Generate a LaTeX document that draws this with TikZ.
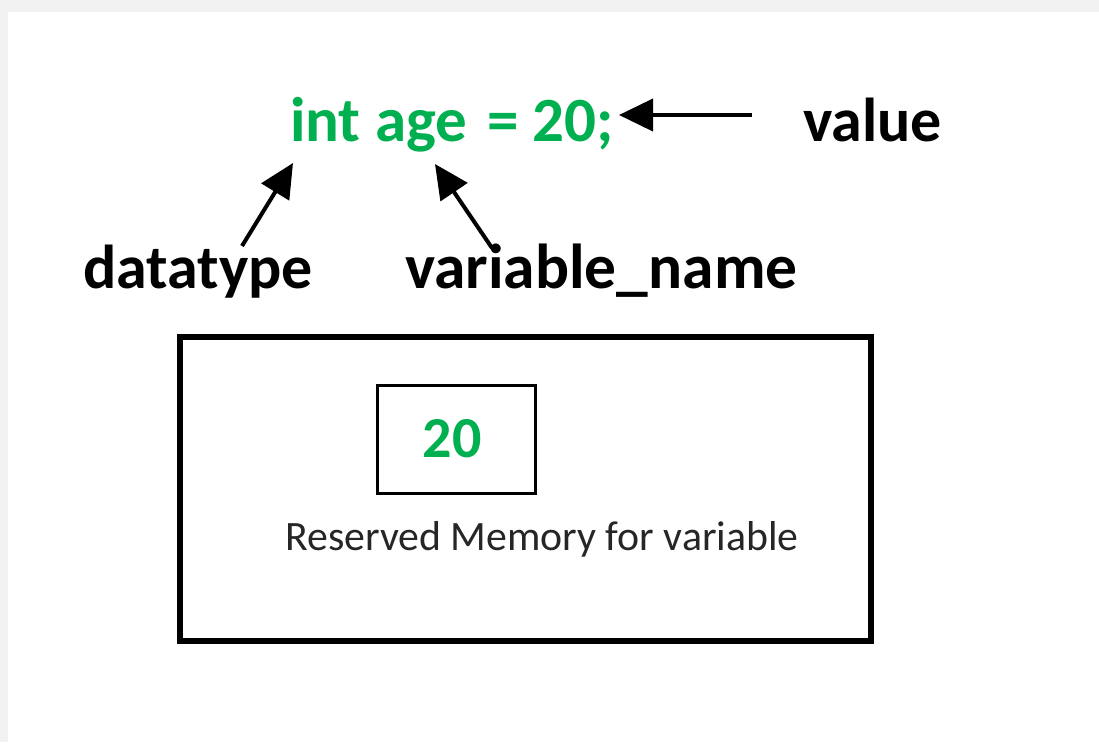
\documentclass[tikz,border=0pt]{standalone}
\usepackage{fontspec}
\setmainfont{Carlito}
\usetikzlibrary{arrows.meta}
\definecolor{codegreen}{HTML}{00B050}
\definecolor{pagegray}{HTML}{F2F2F2}
\tikzset{
  codetext/.style={anchor=base west, inner sep=0pt, text=codegreen, font=\fontsize{63}{63}\selectfont\bfseries},
  labeltext/.style={anchor=base west, inner sep=0pt, text=black, font=\fontsize{62}{62}\selectfont\bfseries},
  pointer/.style={line width=4pt, -{Triangle[length=34pt,width=32pt]}},
  membox/.style={draw=black, line width=6pt},
  cellbox/.style={draw=black, line width=3pt, minimum width=158pt, minimum height=108pt, inner sep=0pt}
}
\begin{document}
\begin{tikzpicture}[x=1pt, y=-1pt]
  % page and light frame
  \fill[pagegray] (0,0) rectangle (1099,742);
  \fill[white] (8,12) rectangle (1099,742);
  \useasboundingbox (0,0) rectangle (1099,742);

  % declaration and its parts
  \node[codetext] (code) at (290,141) {int age\hspace{6pt} = 20;};
  \node[labeltext] (value) at (803,141) {value};
  \node[labeltext] (dtype) at (83,288) {datatype};
  \node[labeltext, font=\fontsize{63.5}{63.5}\selectfont\bfseries] (vname) at (405,288) {variable\_name};

  \coordinate (valtail) at (752,115);
  \coordinate (valtip) at (619,115);
  \coordinate (dttail) at (242,246);
  \coordinate (dttip) at (293,163);
  \coordinate (vntail) at (492,248);
  \coordinate (vntip) at (435,164);

  \draw[pointer] (valtail) -- (valtip);
  \draw[pointer] (dttail) -- (dttip);
  \draw[pointer] (vntail) -- (vntip);

  % memory block
  \node[membox, minimum width=691pt, minimum height=304pt, inner sep=0pt] (memory) at (525.5,489) {};
  \node[cellbox] (cell) at (456,439) {};
  \node[anchor=base, inner sep=0pt, text=codegreen, font=\fontsize{58}{58}\selectfont\bfseries] (num) at (452,457) {20};
  \node[anchor=base west, inner sep=0pt, text=black!85, font=\fontsize{41.8}{41.8}\selectfont] (caption) at (285,550) {Reserved Memory for variable};
\end{tikzpicture}
\end{document}
